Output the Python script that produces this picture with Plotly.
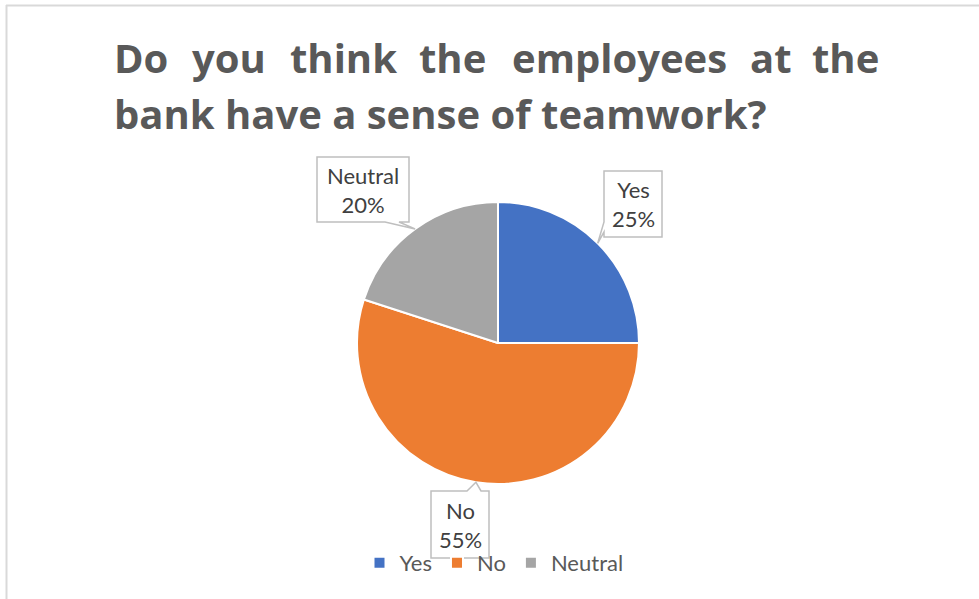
import math
import plotly.graph_objects as go

# Survey answers
categories = ["Yes", "No", "Neutral"]
shares = [25, 55, 20]
colors = ["#4472C4", "#ED7D31", "#A5A5A5"]

title_line1 = ["Do", "you", "think", "the", "employees", "at", "the"]
title_line2 = "bank have a sense of teamwork?"

W, H = 979, 599
FONT = "Lato, 'Open Sans', sans-serif"
TITLE_FONT = "'Open Sans', Lato, sans-serif"

# pie placement (pixels)
cx, cy, r = 498, 343, 141

fig = go.Figure()
fig.add_trace(go.Pie(
    labels=categories,
    values=shares,
    sort=False,
    direction="clockwise",
    rotation=0,
    marker=dict(colors=colors, line=dict(color="white", width=2)),
    textinfo="none",
    hoverinfo="label+percent",
    domain=dict(x=[(cx - r) / W, (cx + r) / W],
                y=[(H - cy - r) / H, (H - cy + r) / H]),
))

# slice mid-angles (clockwise from 12 o'clock) for callout pointers
total = sum(shares)
mid_pts = []
acc = 0
for v in shares:
    a = 2 * math.pi * (acc + v / 2) / total
    mid_pts.append((cx + r * math.sin(a), cy - r * math.cos(a)))
    acc += v

# callout boxes: (left, top, right, bottom, pointer side, pointer base span)
boxes = [
    (604, 171, 662, 237, "left", (222, 232)),   # Yes
    (431, 491, 489, 558, "top", (467, 481)),    # No
    (317, 157, 409, 222, "bottom", (385, 399)), # Neutral
]

shapes = []
annotations = []
for (l, t, rr, b, side, span), (tx, ty), lab, v in zip(boxes, mid_pts, categories, shares):
    s0, s1 = span
    if side == "left":
        path = (f"M{l},{t} L{rr},{t} L{rr},{b} L{l},{b} L{l},{s1} "
                f"L{tx},{ty} L{l},{s0} Z")
    elif side == "top":
        path = (f"M{l},{t} L{s0},{t} L{tx},{ty} L{s1},{t} L{rr},{t} "
                f"L{rr},{b} L{l},{b} Z")
    else:
        path = (f"M{l},{t} L{rr},{t} L{rr},{b} L{s1},{b} L{tx},{ty} "
                f"L{s0},{b} L{l},{b} Z")
    shapes.append(dict(type="path", xref="x", yref="y", path=path,
                       fillcolor="white", line=dict(color="#BFBFBF", width=1.5),
                       layer="above"))
    annotations.append(dict(
        x=(l + rr) / 2, y=(t + b) / 2, xref="x", yref="y",
        text=f"{lab}<br>{round(100 * v / total)}%",
        showarrow=False, xanchor="center", yanchor="middle",
        font=dict(family=FONT, size=22, color="#404040"),
    ))

# chart-area border (top and left edges)
shapes.append(dict(type="line", xref="x", yref="y", x0=6, x1=W, y0=5.5, y1=5.5,
                   line=dict(color="#D9D9D9", width=2), layer="below"))
shapes.append(dict(type="line", xref="x", yref="y", x0=6.5, x1=6.5, y0=5, y1=H,
                   line=dict(color="#D9D9D9", width=2), layer="below"))

# justified first title line: word centres across the title block
word_centres = [144, 229, 343, 452, 619, 771, 851]
for i, (w, xc) in enumerate(zip(title_line1, word_centres)):
    if i == 0:
        xa, xx = "left", 112
    elif i == len(title_line1) - 1:
        xa, xx = "right", 881
    else:
        xa, xx = "center", xc
    annotations.append(dict(
        x=xx, y=57, xref="x", yref="y", text=f"<b>{w}</b>", showarrow=False,
        xanchor=xa, yanchor="middle",
        font=dict(family=TITLE_FONT, size=40, color="#595959"),
    ))
annotations.append(dict(
    x=112, y=113, xref="x", yref="y", text=f"<b>{title_line2}</b>", showarrow=False,
    xanchor="left", yanchor="middle",
    font=dict(family=TITLE_FONT, size=40, color="#595959"),
))

fig.update_layout(
    width=W, height=H,
    margin=dict(l=0, r=0, t=0, b=0),
    paper_bgcolor="white", plot_bgcolor="rgba(0,0,0,0)",
    xaxis=dict(range=[0, W], visible=False, fixedrange=True),
    yaxis=dict(range=[H, 0], visible=False, fixedrange=True),
    showlegend=True,
    legend=dict(orientation="h", x=(cx - 4) / W, xanchor="center",
                y=(H - 563) / H, yanchor="middle",
                font=dict(family=FONT, size=22, color="#595959"),
                bgcolor="rgba(0,0,0,0)", itemwidth=30, tracegroupgap=0),
    shapes=shapes,
    annotations=annotations,
)

fig.write_html("out.html")
